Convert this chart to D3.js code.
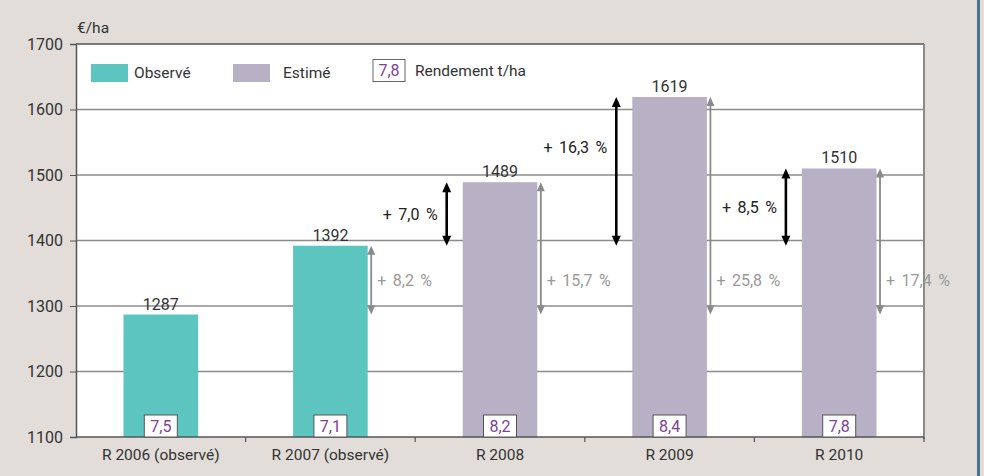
<!DOCTYPE html>
<html>
<head>
<meta charset="utf-8">
<script src="https://cdn.jsdelivr.net/npm/d3@7"></script>
<style>
  html, body { margin: 0; padding: 0; background: #e2ddd9; }
  svg text { font-family: Roboto, "Liberation Sans", sans-serif; }
</style>
</head>
<body>
<div id="chart-container"></div>
<script>
// chart data
const categories = ["R 2006 (observé)", "R 2007 (observé)", "R 2008", "R 2009", "R 2010"];
const values = [1287, 1392, 1489, 1619, 1510];
const kinds = ["Observé", "Observé", "Estimé", "Estimé", "Estimé"];
const yields = ["7,5", "7,1", "8,2", "8,4", "7,8"];
const vs2006 = [null, "+ 8,2 %", "+ 15,7 %", "+ 25,8 %", "+ 17,4 %"];
const vs2007 = [null, null, "+ 7,0 %", "+ 16,3 %", "+ 8,5 %"];
const yTicks = [1100, 1200, 1300, 1400, 1500, 1600, 1700];

const width = 984;
const height = 476;
const marginTop = 44;
const marginRight = 60;
const marginBottom = 39;
const marginLeft = 76;
const fs = 16;

const colors = { "Observé": "#5cc5bf", "Estimé": "#b8b0c4" };

const svg = d3.select("#chart-container").append("svg")
    .attr("width", width)
    .attr("height", height)
    .attr("viewBox", [0, 0, width, height]);

// page border on the right
svg.append("rect")
    .attr("x", 977).attr("y", 0)
    .attr("width", 3).attr("height", height)
    .attr("fill", "#4a7591");

const x = d3.scaleBand()
    .domain(categories)
    .range([marginLeft, width - marginRight])
    .paddingInner(0.56)
    .paddingOuter(0.28);

const xCell = d3.scaleBand()
    .domain(categories)
    .range([marginLeft, width - marginRight]);

const y = d3.scaleLinear()
    .domain([1100, 1700])
    .range([height - marginBottom, marginTop]);

// plot background
svg.append("rect")
    .attr("x", marginLeft).attr("y", marginTop)
    .attr("width", width - marginRight - marginLeft)
    .attr("height", y(1100) - marginTop)
    .attr("fill", "#fff");

// grid lines
svg.append("g")
  .selectAll("line")
  .data(yTicks.slice(1, -1))
  .join("line")
    .attr("x1", marginLeft).attr("x2", width - marginRight)
    .attr("y1", d => y(d)).attr("y2", d => y(d))
    .attr("stroke", "#8c8c8c")
    .attr("stroke-width", 1.3);

svg.append("line")
    .attr("x1", marginLeft).attr("x2", width - marginRight)
    .attr("y1", y(1700)).attr("y2", y(1700))
    .attr("stroke", "#555").attr("stroke-width", 1.5);

svg.append("line")
    .attr("x1", width - marginRight).attr("x2", width - marginRight)
    .attr("y1", y(1700)).attr("y2", y(1100) + 2)
    .attr("stroke", "#8a8a8a").attr("stroke-width", 2);

// bars
svg.append("g")
  .selectAll("rect")
  .data(values)
  .join("rect")
    .attr("x", (d, i) => x(categories[i]))
    .attr("y", d => y(d))
    .attr("width", x.bandwidth())
    .attr("height", d => y(1100) - y(d))
    .attr("fill", (d, i) => colors[kinds[i]]);

// value labels
svg.append("g")
  .selectAll("text")
  .data(values)
  .join("text")
    .attr("x", (d, i) => x(categories[i]) + x.bandwidth() / 2)
    .attr("y", d => y(d) - 5)
    .attr("text-anchor", "middle")
    .attr("font-size", fs)
    .attr("fill", "#333")
    .text(d => d);

// y axis
const yAxis = svg.append("g")
    .attr("transform", `translate(${marginLeft},0)`)
    .call(d3.axisLeft(y).tickValues(yTicks).tickFormat(d3.format("d")).tickSize(6).tickPadding(7));
yAxis.select(".domain").attr("stroke", "#555").attr("stroke-width", 1.5);
yAxis.selectAll(".tick line").attr("stroke", "#555");
yAxis.selectAll(".tick text")
    .attr("font-size", fs)
    .attr("fill", "#333");

svg.append("text")
    .attr("x", marginLeft + 1)
    .attr("y", 33)
    .attr("font-size", 15.5)
    .attr("fill", "#333")
    .text("€/ha");

// x axis
svg.append("line")
    .attr("x1", marginLeft).attr("x2", width - marginRight)
    .attr("y1", y(1100)).attr("y2", y(1100))
    .attr("stroke", "#555").attr("stroke-width", 1.5);

svg.append("g")
  .selectAll("line")
  .data(categories)
  .join("line")
    .attr("x1", d => xCell(d) + xCell.bandwidth())
    .attr("x2", d => xCell(d) + xCell.bandwidth())
    .attr("y1", y(1100)).attr("y2", y(1100) + 5)
    .attr("stroke", "#555").attr("stroke-width", 1.2);

svg.append("g")
  .selectAll("text")
  .data(categories)
  .join("text")
    .attr("x", d => xCell(d) + xCell.bandwidth() / 2)
    .attr("y", y(1100) + 23)
    .attr("text-anchor", "middle")
    .attr("font-size", 15.5)
    .attr("fill", "#333")
    .text(d => d);

// yield boxes
const yieldG = svg.append("g")
  .selectAll("g")
  .data(yields)
  .join("g")
    .attr("transform", (d, i) => `translate(${x(categories[i]) + x.bandwidth() / 2},${y(1100)})`);
yieldG.append("rect")
    .attr("x", -16.5).attr("y", -22)
    .attr("width", 33).attr("height", 22)
    .attr("fill", "#fff")
    .attr("stroke", "#555").attr("stroke-width", 1);
yieldG.append("text")
    .attr("y", -5)
    .attr("text-anchor", "middle")
    .attr("font-size", fs)
    .attr("fill", "#7d3f98")
    .text(d => d);

// arrows
function arrow(g, xPos, yTop, yBot, color, sw, hw, hh) {
  g.append("line")
      .attr("x1", xPos).attr("x2", xPos)
      .attr("y1", yTop + hh - 1).attr("y2", yBot - hh + 1)
      .attr("stroke", color).attr("stroke-width", sw);
  g.append("path")
      .attr("d", `M${xPos},${yTop}L${xPos - hw},${yTop + hh}L${xPos + hw},${yTop + hh}Z`)
      .attr("fill", color);
  g.append("path")
      .attr("d", `M${xPos},${yBot}L${xPos - hw},${yBot - hh}L${xPos + hw},${yBot - hh}Z`)
      .attr("fill", color);
}

const arrowG = svg.append("g");
const grayY = y((values[0] + values[1]) / 2);

vs2006.forEach((label, i) => {
  if (!label) return;
  const ax = x(categories[i]) + x.bandwidth() + 3.5;
  arrow(arrowG, ax, y(values[i]), y(values[0]), "#8a8a8a", 1.8, 4, 9);
  arrowG.append("text")
      .attr("x", ax + 6)
      .attr("y", grayY)
      .attr("dy", "0.35em")
      .attr("font-size", fs)
      .attr("fill", "#999")
      .attr("word-spacing", 2.5)
      .text(label);
});

vs2007.forEach((label, i) => {
  if (!label) return;
  const ax = x(categories[i]) - 16;
  const top = y(values[i]);
  const bot = y(values[1]);
  arrow(arrowG, ax, top, bot, "#000", 2.6, 4.5, 10);
  arrowG.append("text")
      .attr("x", ax - 9)
      .attr("y", Math.min((top + bot) / 2, top + 50))
      .attr("dy", "0.35em")
      .attr("text-anchor", "end")
      .attr("font-size", fs)
      .attr("fill", "#222")
      .attr("word-spacing", 2.5)
      .text(label);
});

// legend
const legend = svg.append("g");
[["Observé", 91, 134], ["Estimé", 233, 283]].forEach(([k, rx, tx]) => {
  legend.append("rect")
      .attr("x", rx).attr("y", 64)
      .attr("width", 37).attr("height", 18)
      .attr("fill", colors[k]);
  legend.append("text")
      .attr("x", tx).attr("y", 78)
      .attr("font-size", 15.5)
      .attr("fill", "#333")
      .text(k);
});
legend.append("rect")
    .attr("x", 373).attr("y", 59.5)
    .attr("width", 32).attr("height", 22)
    .attr("fill", "#fff")
    .attr("stroke", "#666").attr("stroke-width", 1);
legend.append("text")
    .attr("x", 389).attr("y", 76)
    .attr("text-anchor", "middle")
    .attr("font-size", fs)
    .attr("fill", "#7d3f98")
    .text(yields[4]);
legend.append("text")
    .attr("x", 415).attr("y", 76)
    .attr("font-size", 15.5)
    .attr("fill", "#333")
    .text("Rendement t/ha");
</script>
</body>
</html>
